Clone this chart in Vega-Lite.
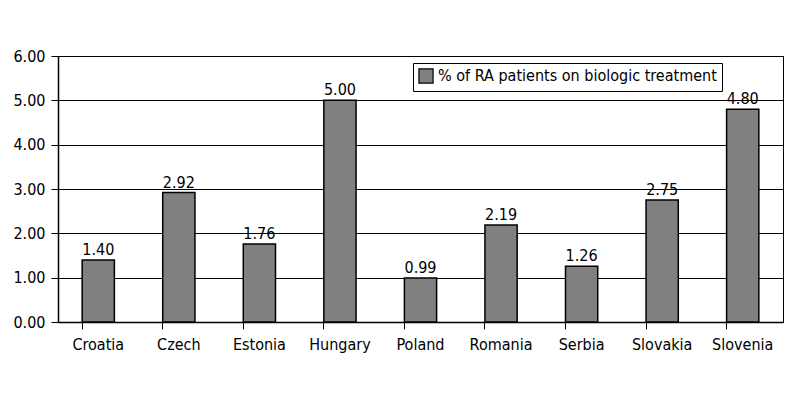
{
  "$schema": "https://vega.github.io/schema/vega-lite/v6.json",
  "width": 725,
  "height": 266,
  "autosize": {"type": "none"},
  "padding": {"left": 58, "top": 56, "right": 17, "bottom": 78},
  "background": "white",
  "config": {
    "font": "DejaVu Sans Condensed",
    "view": {"stroke": "black", "strokeWidth": 1},
    "axis": {"labelFont": "DejaVu Sans Condensed", "labelColor": "black", "labelFontSize": 16, "domainColor": "black", "tickColor": "black", "gridColor": "black", "gridOpacity": 1}
  },
  "data": {"values": [
    {"country": "Croatia", "value": 1.40, "series": "% of RA patients on biologic treatment"},
    {"country": "Czech", "value": 2.92, "series": "% of RA patients on biologic treatment"},
    {"country": "Estonia", "value": 1.76, "series": "% of RA patients on biologic treatment"},
    {"country": "Hungary", "value": 5.00, "series": "% of RA patients on biologic treatment"},
    {"country": "Poland", "value": 0.99, "series": "% of RA patients on biologic treatment"},
    {"country": "Romania", "value": 2.19, "series": "% of RA patients on biologic treatment"},
    {"country": "Serbia", "value": 1.26, "series": "% of RA patients on biologic treatment"},
    {"country": "Slovakia", "value": 2.75, "series": "% of RA patients on biologic treatment"},
    {"country": "Slovenia", "value": 4.80, "series": "% of RA patients on biologic treatment"}
  ]},
  "encoding": {
    "x": {"field": "country", "type": "nominal", "sort": null,
      "scale": {"paddingInner": 0.6, "paddingOuter": 0.3},
      "axis": {"title": null, "labelAngle": 0, "bandPosition": 0, "tickSize": 7, "labelPadding": 7, "domainWidth": 1.5, "grid": false}},
    "y": {"field": "value", "type": "quantitative",
      "scale": {"domain": [0, 6]},
      "axis": {"title": null, "values": [0,1,2,3,4,5,6], "format": ".2f", "tickSize": 7, "labelPadding": 6, "grid": true, "domainWidth": 1.5}}
  },
  "layer": [
    {
      "mark": {"type": "bar", "stroke": "black", "strokeWidth": 1.5},
      "encoding": {
        "color": {"field": "series", "type": "nominal", "scale": {"range": ["#808080"]},
          "legend": {"title": null, "orient": "none", "legendX": 355, "legendY": 7, "strokeColor": "black", "fillColor": "white", "padding": 5,
            "labelFontSize": 16, "labelFont": "DejaVu Sans Condensed", "labelColor": "black", "symbolType": "square", "symbolSize": 200, "symbolStrokeColor": "black", "symbolStrokeWidth": 1.2, "labelLimit": 400}}
      }
    },
    {
      "mark": {"type": "text", "dy": -10, "fontSize": 16, "color": "black", "font": "DejaVu Sans Condensed"},
      "encoding": {"text": {"field": "value", "type": "quantitative", "format": ".2f"}}
    }
  ]
}
